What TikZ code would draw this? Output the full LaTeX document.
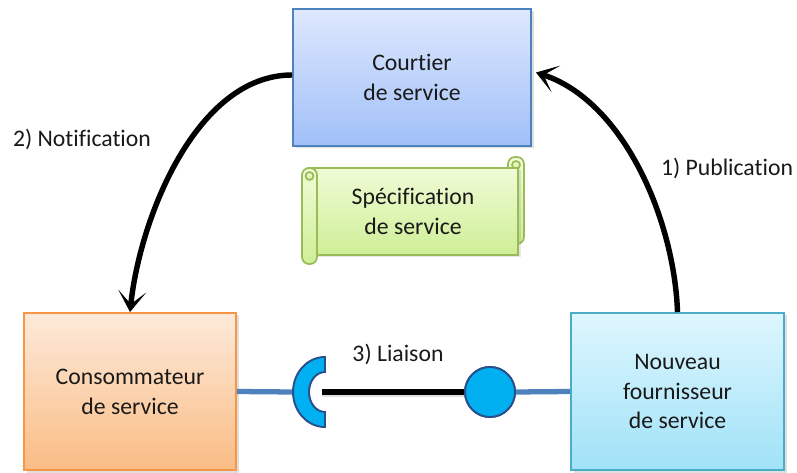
\documentclass[tikz,border=0pt]{standalone}
\usepackage{fontspec}
\setmainfont{Carlito}[Ligatures=NoCommon]
\usepackage{tikz}
\usetikzlibrary{arrows.meta,shadows}
\definecolor{brokerline}{RGB}{79,129,189}
\definecolor{brokertop}{RGB}{222,232,254}
\definecolor{brokerbot}{RGB}{160,192,248}
\definecolor{consline}{RGB}{247,150,70}
\definecolor{constop}{RGB}{253,234,218}
\definecolor{consbot}{RGB}{250,188,132}
\definecolor{provline}{RGB}{75,172,198}
\definecolor{provtop}{RGB}{222,246,254}
\definecolor{provbot}{RGB}{160,226,248}
\definecolor{scrollline}{RGB}{155,187,89}
\definecolor{scrolltop}{RGB}{240,252,214}
\definecolor{scrollbot}{RGB}{206,238,150}
\definecolor{plugfill}{RGB}{0,176,240}
\definecolor{plugline}{RGB}{40,80,140}
\definecolor{wireblue}{RGB}{79,129,189}

\begin{document}
\begin{tikzpicture}[
  txt/.style={font=\fontsize{13.5}{17}\selectfont, text=black!90, align=center},
  actor/.style={txt, draw, line width=1.1pt, drop shadow={opacity=0.25, shadow xshift=0.05cm, shadow yshift=-0.05cm}},
  flow/.style={line width=3.1pt, -{Stealth[length=0.42cm, width=0.56cm, inset=0.26cm]}},
  scroll/.style={draw=scrollline, line width=1pt, top color=scrolltop, bottom color=scrollbot},
  wire/.style={wireblue, line width=3pt},
  plug/.style={fill=plugfill, draw=plugline, line width=1.1pt}
]
\useasboundingbox (0,0) rectangle (15.94,9.44);

% Service actors
\node[actor, draw=brokerline, top color=brokertop, bottom color=brokerbot,
  minimum width=4.76cm, minimum height=2.74cm] (broker) at (8.24,7.89) {Courtier\\de service};
\node[actor, draw=consline, top color=constop, bottom color=consbot,
  minimum width=4.24cm, minimum height=3.14cm] (cons) at (2.6,1.61) {Consommateur\\de service};
\node[actor, draw=provline, top color=provtop, bottom color=provbot,
  minimum width=4.26cm, minimum height=3.14cm] (prov) at (13.55,1.61) {Nouveau\\fournisseur\\de service};

% Scroll with the specification
\draw[scroll, rounded corners=4pt] (10.16,4.56) rectangle (10.48,6.30);
\draw[scroll] (10.32,6.14) circle (0.08);
\node[txt, scroll, minimum width=4.2cm, minimum height=1.74cm,
  drop shadow={opacity=0.2, shadow xshift=0.05cm, shadow yshift=-0.05cm}] (spec) at (8.26,5.21) {Spécification\\de service};
\draw[scroll, rounded corners=4pt] (6.04,4.16) rectangle (6.34,6.08);
\draw[scroll] (6.19,5.92) circle (0.08);

% Publication and notification
\coordinate (brokerE) at ([xshift=0.08cm, yshift=0.1cm]broker.east);
\draw[flow] (prov.north) to[out=92, in=-18, looseness=0.85] (brokerE);
\draw[flow] ([yshift=0.05cm]broker.west) to[out=180, in=84, looseness=0.85] (cons.north);
\node[txt] (pub) at (14.54,6.08) {1) Publication};
\node[txt] (notif) at (1.64,6.66) {2) Notification};

% Binding: socket and ball
\coordinate (sockL) at (5.86,1.6);
\coordinate (sockR) at (6.44,1.6);
\node[plug, circle, minimum size=1cm, inner sep=0pt] (ball) at (9.8,1.6) {};
\draw[wire] (cons.east) -- (sockL);
\draw[wire] (ball.east) -- (prov.west);
\draw[plug] (6.5,2.3) arc[start angle=90, end angle=270, x radius=0.64cm, y radius=0.7cm]
  -- (6.5,1.2) arc[start angle=270, end angle=90, x radius=0.32cm, y radius=0.4cm] -- cycle;
\draw[line width=3pt, black!30, opacity=0.4] ([yshift=-0.05cm]sockR) -- ([yshift=-0.05cm]ball.west);
\draw[line width=3pt] (sockR) -- (ball.west);
\node[plug, circle, minimum size=1cm, inner sep=0pt] at (ball) {};
\node[txt] (bind) at (7.96,2.36) {3) Liaison};
\end{tikzpicture}
\end{document}
